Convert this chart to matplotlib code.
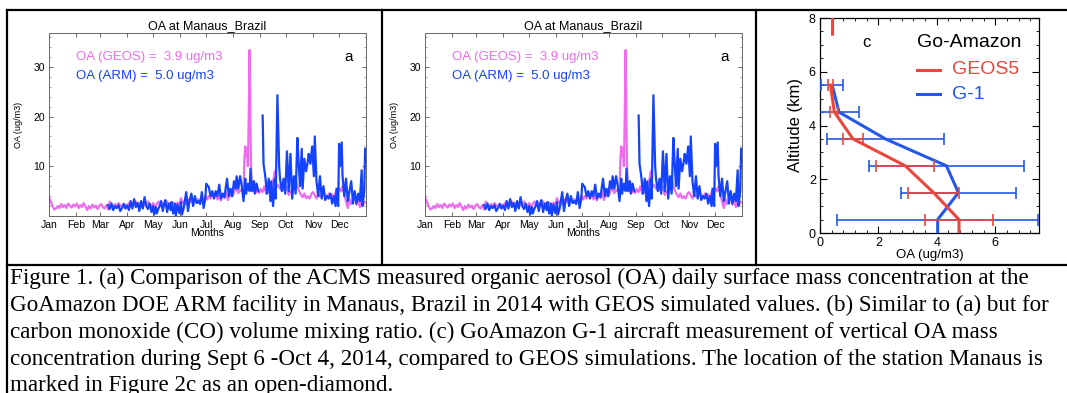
import numpy as np
import matplotlib
matplotlib.use("Agg")
import matplotlib.pyplot as plt
from matplotlib.lines import Line2D
from matplotlib.ticker import MultipleLocator

# ---- data: daily surface OA at Manaus, 2014 (day of year) ----
geos_day = [0, 2, 4, 6, 8, 10, 12, 14, 16, 18, 20, 22, 24, 26, 28, 30,
            32, 34, 36, 38, 40, 42, 44, 46, 48, 50, 52, 54, 56, 58,
            60, 62, 64, 66, 68, 70, 72, 74, 76, 78, 80, 82, 84, 86, 88, 90,
            92, 94, 96, 98, 100, 102, 104, 106, 108, 110, 112, 114, 116, 118,
            120, 122, 124, 126, 128, 130, 132, 134, 136, 138, 140, 142, 144, 146, 148, 150,
            152, 154, 156, 158, 160, 162, 164, 166, 168, 170, 172, 174, 176, 178, 180,
            182, 184, 186, 188, 190, 192, 194, 196, 198, 200, 202, 204, 206, 208, 210,
            212, 214, 216, 218, 220, 222, 224, 225, 226, 227, 228, 229, 230, 231, 232, 233, 234,
            236, 238, 240, 242, 244, 246, 248, 250, 252, 254, 256, 258, 260, 262, 264, 266,
            268, 270, 272, 274, 276, 278, 280, 282, 284, 286, 288, 290, 292, 294, 296, 298,
            300, 302, 304, 306, 308, 310, 312, 314, 316, 318, 320, 322, 324, 326, 328, 330,
            332, 334, 336, 338, 340, 342, 344, 346, 348, 350, 352, 354, 356, 358, 360, 362, 364]
geos_oa = [3.8, 3.0, 2.0, 1.3, 1.5, 2.0, 1.6, 2.4, 1.8, 2.2, 1.6, 2.5, 2.0, 1.7, 2.3, 1.9,
           2.5, 1.6, 2.2, 1.8, 2.6, 1.9, 1.2, 2.0, 1.5, 2.3, 1.7, 2.1, 1.4, 2.0,
           2.4, 1.8, 1.5, 2.2, 1.3, 2.9, 2.0, 1.7, 2.4, 1.9, 2.6, 2.1, 1.8, 2.5, 2.2, 2.0,
           2.6, 2.2, 1.8, 2.7, 2.9, 2.3, 2.6, 2.0, 1.8, 2.5, 2.2, 2.9, 2.1, 1.9,
           2.6, 1.9, 2.3, 2.9, 2.1, 2.6, 2.3, 2.0, 2.9, 2.4, 2.1, 2.8, 2.5, 2.2, 2.7, 2.3,
           3.6, 2.6, 3.0, 2.3, 3.1, 3.5, 2.8, 3.2, 3.6, 2.9, 3.4, 3.0, 3.8, 3.3, 4.0,
           3.3, 4.0, 3.5, 4.3, 3.8, 4.6, 3.3, 4.1, 3.1, 4.5, 3.6, 4.8, 3.2, 4.4, 3.9,
           4.3, 5.1, 5.6, 4.6, 5.2, 5.0, 5.2, 11.5, 14.0, 12.0, 13.5, 10.0, 20.0, 33.4, 18.0, 6.0, 5.0,
           5.6, 4.7, 5.3, 4.6, 5.4, 4.8, 6.0, 4.5, 6.5, 4.6, 5.5, 6.8, 9.0, 5.8, 6.2, 5.5,
           6.0, 5.2, 5.8, 5.8, 4.2, 5.0, 4.4, 5.6, 7.6, 6.0, 5.0, 4.3, 3.8, 4.5, 3.6, 4.0,
           3.5, 4.4, 4.8, 4.2, 3.5, 4.6, 3.9, 4.4, 5.0, 4.2, 3.6, 4.5, 3.8, 4.3, 3.4, 4.8,
           5.2, 5.6, 5.0, 6.0, 4.2, 3.0, 1.6, 3.5, 2.4, 3.2, 4.0, 2.3, 3.0, 1.8, 3.2, 2.4, 2.8]

arm_day = [68, 70, 72, 74, 76, 78, 80, 82, 84, 86, 88, 90, 92, 94, 96, 98, 100, 102,
           104, 106, 108, 110, 112, 114, 116, 118, 120, 121, 123, 124, 126, 128, 129,
           131, 133, 134, 136, 138, 140, 141, 143, 145, 146, 148, 150, 152, 153, 155,
           158, 160, 162, 164, 166, 168, 170, 172, 174, 176, 178, 180, 181, 184, 186,
           188, 190, 192, 194, 196, 198, 200, 202, 205, 207, 209, 211, 213, 215, 216,
           218, 220, 222, 224, 226, 227, 229, 231, 232, 234, 236, 237, 239, 241, 243,
           246, 247, 249, 251, 253, 255, 256, 258, 260, 261, 263, 265, 266, 268, 270,
           272, 274, 276, 278, 280, 282, 284, 286, 287, 289, 291, 292, 294, 296, 298,
           299, 301, 303, 305, 306, 308, 310, 312, 314, 316, 318, 320, 322, 324, 326,
           328, 330, 331, 333, 334, 335, 337, 338, 340, 342, 344, 346, 348, 350, 352,
           354, 356, 358, 360, 361, 363, 364]
arm_oa = [2.2, 1.4, 2.5, 1.2, 2.0, 1.6, 2.2, 1.0, 1.6, 2.4, 1.5, 2.1, 1.2, 3.0, 1.5, 3.4, 1.8, 2.6,
          1.0, 3.0, 1.5, 3.8, 2.0, 1.4, 2.5, 0.8, 2.0, 0.3, 1.8, 0.5, 1.5, 2.2, 3.0,
          1.0, 2.8, 3.2, 0.8, 2.5, 1.2, 2.8, 0.5, 2.5, 0.0, 2.3, 0.6, 2.8, 0.3, 1.5,
          4.8, 1.0, 3.2, 4.5, 2.0, 4.0, 2.6, 3.0, 2.4, 4.8, 1.6, 3.5, 6.5, 5.8, 4.0,
          5.0, 3.5, 5.0, 4.0, 6.3, 3.5, 4.5, 3.8, 7.5, 4.0, 5.5, 4.0, 7.0, 5.5, 8.0,
          5.5, 8.0, 6.0, 3.0, 7.5, 4.5, 6.5, 5.0, 9.5, 5.0, 7.0, 4.5, 6.5, 5.0, np.nan,
          20.2, 10.5, 8.0, 4.5, 7.5, 3.0, 7.0, 2.0, 7.5, 3.5, 24.3, 10.0, 7.5, 5.0, 7.5,
          4.5, 13.0, 5.0, 12.5, 3.5, 8.0, 4.5, 15.7, 12.0, 6.0, 13.5, 5.5, 11.5, 9.0, 11.0,
          12.5, 10.5, 14.0, 8.0, 16.0, 7.0, 4.0, 8.0, 3.5, 6.0, 3.2, 4.0, 3.5, 4.5, 2.5,
          4.0, 2.0, 5.5, 2.0, 14.5, 10.0, 14.8, 8.0, 4.0, 7.5, 3.0, 5.0, 7.0, 2.5, 5.0,
          2.5, 4.5, 3.0, 9.2, 2.0, 5.0, 13.5]

month_start = [0, 31, 59, 90, 120, 151, 181, 212, 243, 273, 304, 334]
month_names = ['Jan', 'Feb', 'Mar', 'Apr', 'May', 'Jun', 'Jul', 'Aug', 'Sep', 'Oct', 'Nov', 'Dec']

# ---- data: vertical OA profile, Go-Amazon (Sept 6 - Oct 4) ----
g1_alt = [0, 0.5, 1.5, 2.5, 3.5, 4.5, 5.5]
g1_oa = [4.03, 4.03, 4.74, 4.33, 2.24, 0.65, 0.42]
g1_err = [np.nan, 3.44, 1.96, 2.64, 2.01, 0.70, 0.38]

geos5_alt = [0, 0.5, 1.5, 2.5, 3.5, 4.5, 5.5, 6.5, 7.4, 8.0]
geos5_oa = [4.76, 4.76, 3.89, 2.92, 1.13, 0.49, 0.36, np.nan, 0.43, 0.43]
geos5_err = [np.nan, 1.17, 0.86, 1.0, 0.35, 0.14, 0.07, np.nan, np.nan, np.nan]

MAG = '#EE6CEE'
BLU = '#1443FF'
RED = '#E8473B'
BLU2 = '#2358E8'

W, H = 1067, 393
fig = plt.figure(figsize=(W / 100, H / 100), dpi=100)
plt.rcParams['font.family'] = ['Liberation Sans', 'DejaVu Sans']


def px_axes(left, top, right, bottom):
    return fig.add_axes([left / W, 1 - bottom / H, (right - left) / W, (bottom - top) / H])


def draw_ts(ax):
    ax.plot(geos_day, geos_oa, color=MAG, lw=1.6)
    ax.plot(arm_day, arm_oa, color=BLU, lw=1.6)
    ax.set_xlim(0, 365)
    ax.set_ylim(0, 36.8)
    ax.set_xticks(month_start)
    ax.set_xticklabels(month_names)
    ax.set_yticks([10, 20, 30])
    ax.yaxis.set_minor_locator(MultipleLocator(2))
    ax.tick_params(direction='in', top=True, right=True, labelsize=7.5, length=3,
                   width=0.6, color='#555555', pad=3)
    ax.tick_params(which='minor', direction='in', right=True, length=1.5, width=0.5,
                   color='#777777')
    for s in ax.spines.values():
        s.set_color('#666666')
        s.set_linewidth(0.7)
    ax.set_title('OA at Manaus_Brazil', fontsize=9, pad=3)
    ax.set_xlabel('Months', fontsize=7.5, labelpad=-1.5)
    ax.set_ylabel('OA (ug/m3)', fontsize=6.5, labelpad=7)
    ax.text(0.085, 0.87, 'OA (GEOS) =  3.9 ug/m3', color=MAG, fontsize=9.5,
            transform=ax.transAxes, va='center')
    ax.text(0.085, 0.765, 'OA (ARM) =  5.0 ug/m3', color=BLU, fontsize=9.5,
            transform=ax.transAxes, va='center')
    ax.text(0.946, 0.87, 'a', fontsize=11, transform=ax.transAxes, va='center', ha='center')


ax_a = px_axes(49, 33, 366, 216)
draw_ts(ax_a)
ax_b = px_axes(425, 33, 742, 216)
draw_ts(ax_b)

# ---- panel c ----
ax_c = px_axes(820, 18, 1039, 233)
ax_c.plot(g1_oa, g1_alt, color=BLU2, lw=2.2, zorder=3)
ax_c.errorbar(g1_oa, g1_alt, xerr=g1_err, fmt='none', ecolor=BLU2, elinewidth=1.2,
              capsize=4, capthick=1.2, zorder=3)
ax_c.plot(geos5_oa, geos5_alt, color=RED, lw=2.2, zorder=4)
ax_c.errorbar(geos5_oa, geos5_alt, xerr=geos5_err, fmt='none', ecolor=RED, elinewidth=1.2,
              capsize=4, capthick=1.2, zorder=4)
ax_c.set_xlim(0, 7.5)
ax_c.set_ylim(0, 8)
ax_c.set_xticks([0, 2, 4, 6])
ax_c.set_yticks([0, 2, 4, 6, 8])
ax_c.xaxis.set_minor_locator(MultipleLocator(0.4))
ax_c.yaxis.set_minor_locator(MultipleLocator(0.5))
ax_c.tick_params(direction='in', top=True, right=True, labelsize=9, length=5, width=0.8, pad=3)
ax_c.tick_params(which='minor', direction='in', top=True, right=True, length=2.5, width=0.6)
for s in ax_c.spines.values():
    s.set_linewidth(0.9)
ax_c.set_ylabel('Altitude (km)', fontsize=12, labelpad=4)
ax_c.set_xlabel('OA (ug/m3)', fontsize=9.5, labelpad=0)
ax_c.text(0.213, 0.884, 'c', fontsize=12, transform=ax_c.transAxes, ha='center', va='center')
ax_c.text(0.441, 0.884, 'Go-Amazon', fontsize=14, transform=ax_c.transAxes, va='center')
ax_c.plot([0.441, 0.548], [0.759, 0.759], color=RED, lw=2.2, transform=ax_c.transAxes)
ax_c.text(0.601, 0.759, 'GEOS5', color=RED, fontsize=14, transform=ax_c.transAxes, va='center')
ax_c.plot([0.441, 0.548], [0.645, 0.645], color=BLU2, lw=2.2, transform=ax_c.transAxes)
ax_c.text(0.601, 0.645, 'G-1', color=BLU2, fontsize=14, transform=ax_c.transAxes, va='center')

# ---- table borders ----
def hline(y, x0, x1, lw=1.6):
    fig.add_artist(Line2D([x0 / W, x1 / W], [1 - y / H, 1 - y / H], color='k', lw=lw,
                          transform=fig.transFigure))


def vline(x, y0, y1, lw=1.6):
    fig.add_artist(Line2D([x / W, x / W], [1 - y0 / H, 1 - y1 / H], color='k', lw=lw,
                          transform=fig.transFigure))


hline(10, 7, W)
hline(265, 7, W)
vline(7, 10, H)
vline(382, 10, 265)
vline(756, 10, 265)

# ---- caption ----
caption = [
    "Figure 1. (a) Comparison of the ACMS measured organic aerosol (OA) daily surface mass concentration at the",
    "GoAmazon DOE ARM facility in Manaus, Brazil in 2014 with GEOS simulated values. (b) Similar to (a) but for",
    "carbon monoxide (CO) volume mixing ratio. (c) GoAmazon G-1 aircraft measurement of vertical OA mass",
    "concentration during Sept 6 -Oct 4, 2014, compared to GEOS simulations. The location of the station Manaus is",
    "marked in Figure 2c as an open-diamond.",
]
cap_y = [278, 305, 332, 359, 386]
texts = []
for line, y in zip(caption, cap_y):
    texts.append(fig.text(10 / W, 1 - y / H, line, family='Liberation Serif', fontsize=15,
                          va='center', ha='left'))
fig.canvas.draw()
r = fig.canvas.get_renderer()
w0 = texts[0].get_window_extent(r).width
fs = 15 * 1025 / w0
for t in texts:
    t.set_fontsize(fs)

fig.savefig('out.png', dpi=100, facecolor='white')
